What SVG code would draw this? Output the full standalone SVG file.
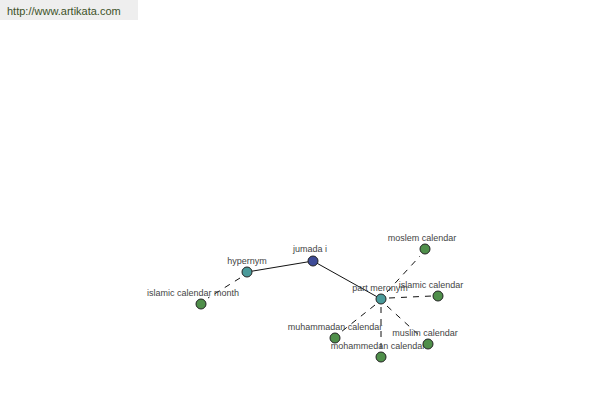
<svg xmlns="http://www.w3.org/2000/svg" width="600" height="400" viewBox="0 0 600 400">
<style>
.lbl{font-family:"Liberation Sans",Arial,sans-serif;font-size:9px;fill:#444;text-anchor:middle}
.solid{stroke:#111;stroke-width:1;fill:none}
.dash{stroke:#111;stroke-width:1;fill:none;stroke-dasharray:6,6}
.n{stroke:#222;stroke-width:1}
.g{fill:#4f8f4a}
.t{fill:#4a9a9a}
.b{fill:#3e4b97}
</style>
<rect x="0" y="0" width="138" height="20" fill="#eeeeee"/>
<text x="7" y="15" font-family="Liberation Sans,Arial,sans-serif" font-size="11" fill="#3d5229">http://www.artikata.com</text>
<g id="connectors">
<line class="solid" x1="313" y1="261" x2="247" y2="272"/>
<line class="solid" x1="313" y1="261" x2="381" y2="299"/>
<line class="dash" x1="240" y1="278" x2="208" y2="298"/>
<line class="dash" x1="387" y1="292" x2="420" y2="256"/>
<line class="dash" x1="389" y1="298" x2="432" y2="296"/>
<line class="dash" x1="375" y1="305" x2="341" y2="332"/>
<line class="dash" x1="381" y1="307" x2="381" y2="350"/>
<line class="dash" x1="387" y1="306" x2="422" y2="338"/>
</g>
<g id="jumada"><circle class="n b" cx="313" cy="261" r="5"/><text class="lbl" x="310" y="252">jumada i</text></g>
<g id="hypernym"><circle class="n t" cx="247" cy="272" r="5"/><text class="lbl" x="247" y="264">hypernym</text></g>
<g id="islamic-calendar-month"><circle class="n g" cx="201" cy="304" r="5"/><text class="lbl" x="193" y="296">islamic calendar month</text></g>
<g id="part-meronym"><circle class="n t" cx="381" cy="299" r="5"/><text class="lbl" x="380" y="291">part meronym</text></g>
<g id="moslem-calendar"><circle class="n g" cx="425" cy="249" r="5"/><text class="lbl" x="422" y="241">moslem calendar</text></g>
<g id="islamic-calendar"><circle class="n g" cx="438" cy="296" r="5"/><text class="lbl" x="431" y="288">islamic calendar</text></g>
<g id="muhammadan-calendar"><circle class="n g" cx="335" cy="338" r="5"/><text class="lbl" x="335" y="330">muhammadan calendar</text></g>
<g id="mohammedan-calendar"><circle class="n g" cx="381" cy="357" r="5"/><text class="lbl" x="378" y="349">mohammedan calendar</text></g>
<g id="muslim-calendar"><circle class="n g" cx="428" cy="344" r="5"/><text class="lbl" x="425" y="336">muslim calendar</text></g>
</svg>
